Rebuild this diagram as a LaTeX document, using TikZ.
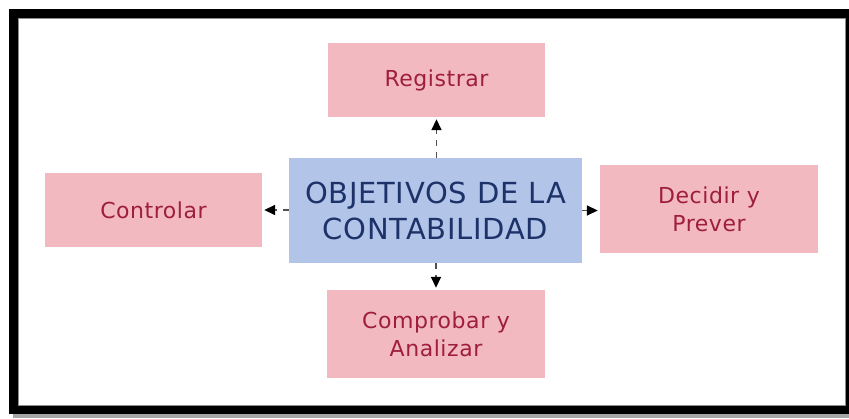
\documentclass[tikz,border=0pt]{standalone}
\usepackage{fontspec}
\setmainfont{DejaVu Sans}
\newfontfamily\spacedfont[LetterSpace=2.5]{DejaVu Sans}
\usetikzlibrary{arrows.meta}
\definecolor{pinkfill}{RGB}{242,185,193}
\definecolor{pinktext}{RGB}{158,30,60}
\definecolor{bluefill}{RGB}{178,196,232}
\definecolor{bluetext}{RGB}{28,50,105}
\definecolor{dashcol}{RGB}{80,80,80}
\tikzset{
  goal/.style={fill=pinkfill, draw=none, inner sep=0pt, text=pinktext, align=center,
    font=\spacedfont\fontsize{22}{28}\selectfont, minimum width=217pt},
  mainbox/.style={fill=bluefill, draw=none, inner sep=0pt, text=bluetext, align=center,
    font=\spacedfont\fontsize{29}{36}\selectfont, minimum width=293pt, minimum height=105pt},
  link/.style={dashcol, line width=1.6pt, dash pattern=on 6pt off 6pt,
    -{Triangle[length=11pt,width=10pt,fill=black,color=black]}, shorten >=2pt}
}
\begin{document}
\begin{tikzpicture}[x=1pt,y=-1pt]
\useasboundingbox (0,0) rectangle (849,419);
\fill[white] (0,0) rectangle (849,419);
% frame
\fill[black!35] (13,412) rectangle (849,418);
\fill[black] (9,9) rectangle (849,414);
\fill[white] (18,18) rectangle (845,405);
\draw[black!45, line width=0.8pt] (18,18) rectangle (845,405);
% nodes
\node[mainbox] (c) at (435.5,210.5) {OBJETIVOS DE LA\\CONTABILIDAD};
\node[goal, minimum height=74pt] (r) at (436.5,80) {Registrar};
\node[goal, minimum height=74pt] (ctl) at (153.5,210) {Controlar};
\node[goal, minimum width=218pt, minimum height=88pt] (d) at (709,209) {Decidir y\\Prever};
\node[goal, minimum width=218pt, minimum height=88pt] (a) at (436,334) {Comprobar y\\Analizar};
% connectors
\draw[link] (c.north -| r.south) -- (r.south);
\draw[link] (c.south -| a.north) -- (a.north);
\draw[link] (c.west |- ctl.east) -- (ctl.east);
\draw[link] (c.east) -- (c.east -| d.west);
\end{tikzpicture}
\end{document}
